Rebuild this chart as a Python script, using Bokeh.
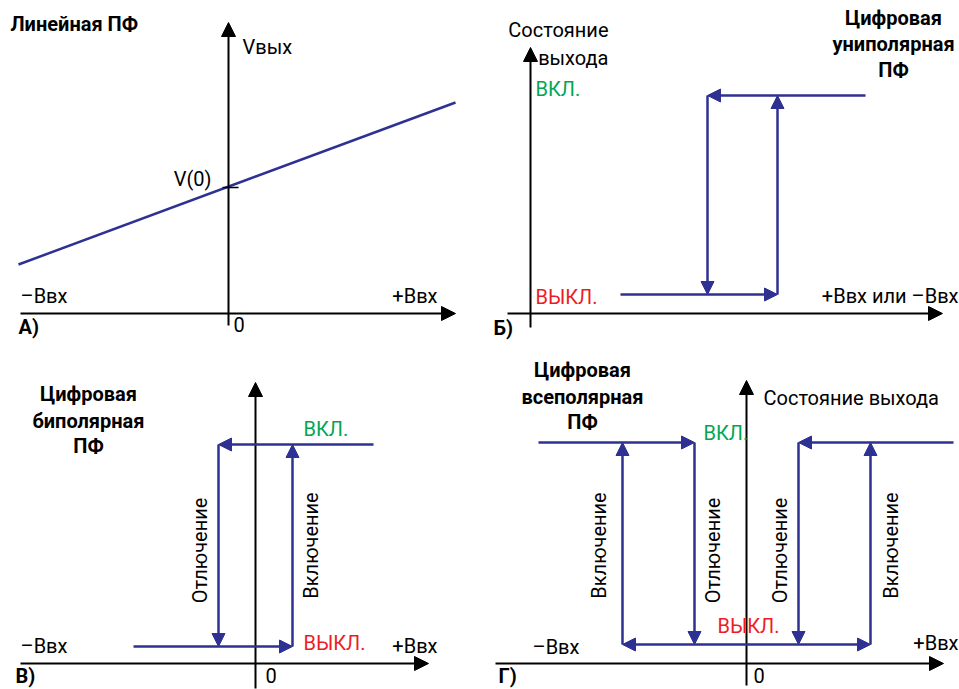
import math
from bokeh.plotting import figure
from bokeh.models import Range1d, Arrow, NormalHead, Label
from bokeh.layouts import column, row
from bokeh.embed import file_html
from bokeh.resources import INLINE

# ---------------- data ----------------
# Panel A: linear sensor, output vs input
lin_vin = [-21.0, 22.7]
lin_vout = [4.9, 21.1]
lin_v0 = 12.6

# Panel B: unipolar digital sensor
uni_in = [9.0, 33.5]          # input span drawn (low branch start, high branch start)
uni_off = 17.7                # switch-off threshold
uni_on = 24.7                 # switch-on threshold
uni_levels = [1.9, 21.8]      # ВЫКЛ., ВКЛ.

# Panel C: bipolar digital sensor
bip_in = [-12.2, 11.8]
bip_off = -3.7
bip_on = 3.7
bip_levels = [1.7, 21.9]

# Panel D: omnipolar digital sensor
omni_in = [-20.8, 20.7]
omni_off = [-5.2, 5.2]
omni_on = [-12.4, 12.4]
omni_levels = [1.9, 22.1]

# axis extents per panel: (x_min, x_max, y_min, y_max)
axes_A = (-20.8, 22.7, -1.2, 29.1)
axes_B = (-2.3, 41.2, -1.4, 26.6)
axes_C = (-23.5, 17.3, -2.5, 28.1)
axes_D = (-25.1, 19.7, -2.2, 28.3)

BLUE = "#2e3192"
GREEN = "#00a651"
RED = "#ed1c24"
FONT = "Roboto"
FS = "20px"
BFS = "20px"


def make_fig(w, h, xr, yr):
    p = figure(width=w, height=h, x_range=Range1d(*xr), y_range=Range1d(*yr),
               output_backend="svg", toolbar_location=None, min_border=0,
               x_axis_location=None, y_axis_location=None)
    p.grid.visible = False
    p.outline_line_color = None
    p.background_fill_color = "white"
    p.border_fill_color = "white"
    return p


def draw_axes(p, ext):
    x0, x1, y0, y1 = ext
    for xs, ys, xe, ye in [(x0, 0, x1, 0), (0, y0, 0, y1)]:
        p.add_layout(Arrow(x_start=xs, y_start=ys, x_end=xe, y_end=ye,
                           line_color="black", line_width=2,
                           end=NormalHead(size=14, fill_color="black",
                                          line_color="black", line_width=1)))


def draw_curve(p, segs, both=()):
    for i, (xs, ys, xe, ye) in enumerate(segs):
        kw = {}
        if i in both:
            kw["start"] = NormalHead(size=13, fill_color=BLUE, line_color=BLUE, line_width=1)
        p.add_layout(Arrow(x_start=xs, y_start=ys, x_end=xe, y_end=ye,
                           line_color=BLUE, line_width=2.5,
                           end=NormalHead(size=13, fill_color=BLUE, line_color=BLUE, line_width=1),
                           **kw))


def label(p, x, y, text, color="black", align="left", bold=False, angle=0.0, size=None):
    p.add_layout(Label(x=x, y=y, text=text, text_color=color, text_align=align,
                       text_baseline="middle", text_font=FONT,
                       text_font_size=size or (BFS if bold else FS),
                       text_font_style="bold" if bold else "normal",
                       angle=angle))


# ---------------- Panel A ----------------
pA = make_fig(480, 345, (-22.8, 25.2), (-3.2, 31.3))
draw_axes(pA, axes_A)
pA.line(lin_vin, lin_vout, line_color=BLUE, line_width=2.5)
pA.segment(x0=[-0.6], y0=[lin_v0], x1=[1.0], y1=[lin_v0], line_color="black", line_width=1.5)
label(pA, -21.8, 29.0, "Линейная ПФ", bold=True)
label(pA, 1.4, 26.7, "Vвых")
label(pA, -1.7, 13.5, "V(0)", align="right")
label(pA, -20.8, 1.8, "–Ввх")
label(pA, 20.9, 1.8, "+Ввх", align="right")
label(pA, 0.5, -1.1, "0")
label(pA, -21.0, -1.3, "А)", bold=True)

# ---------------- Panel B ----------------
pB = make_fig(479, 345, (-5.0, 42.9), (-3.2, 31.3))
draw_axes(pB, axes_B)
lo, hi = uni_levels
draw_curve(pB, [
    (uni_in[0], lo, uni_on, lo),
    (uni_on, lo, uni_on, hi),
    (uni_in[1], hi, uni_off, hi),
    (uni_off, hi, uni_off, lo),
])
label(pB, 7.8, 28.4, "Состояние", align="right")
label(pB, 7.8, 25.6, "выхода", align="right")
label(pB, 0.5, 22.5, "ВКЛ.", color=GREEN)
label(pB, 0.5, 1.7, "ВЫКЛ.", color=RED)
label(pB, 36.3, 29.6, "Цифровая", bold=True, align="center")
label(pB, 36.3, 27.0, "униполярная", bold=True, align="center")
label(pB, 36.3, 24.4, "ПФ", bold=True, align="center")
label(pB, 42.8, 1.8, "+Ввх или –Ввх", align="right")
label(pB, -3.7, -1.4, "Б)", bold=True)

# ---------------- Panel C ----------------
pC = make_fig(480, 344, (-25.5, 22.5), (-2.6, 31.8))
draw_axes(pC, axes_C)
lo, hi = bip_levels
draw_curve(pC, [
    (bip_in[0], lo, bip_on, lo),
    (bip_on, lo, bip_on, hi),
    (bip_in[1], hi, bip_off, hi),
    (bip_off, hi, bip_off, lo),
])
label(pC, -16.7, 27.0, "Цифровая", bold=True, align="center")
label(pC, -16.7, 24.3, "биполярная", bold=True, align="center")
label(pC, -16.7, 21.8, "ПФ", bold=True, align="center")
label(pC, 4.8, 23.5, "ВКЛ.", color=GREEN)
label(pC, 4.8, 2.1, "ВЫКЛ.", color=RED)
label(pC, -5.6, 11.3, "Отлючение", align="center", angle=math.pi / 2)
label(pC, 5.5, 11.8, "Включение", align="center", angle=math.pi / 2)
label(pC, -23.5, 1.8, "–Ввх")
label(pC, 18.2, 1.8, "+Ввх", align="right")
label(pC, 1.0, -1.2, "0")
label(pC, -24.0, -1.2, "В)", bold=True)

# ---------------- Panel D ----------------
pD = make_fig(479, 344, (-26.6, 21.3), (-2.6, 31.8))
draw_axes(pD, axes_D)
lo, hi = omni_levels
draw_curve(pD, [
    (omni_in[0], hi, omni_off[0], hi),
    (omni_off[0], hi, omni_off[0], lo),
    (omni_on[0], lo, omni_on[1], lo),
    (omni_on[0], lo, omni_on[0], hi),
    (omni_in[1], hi, omni_off[1], hi),
    (omni_off[1], hi, omni_off[1], lo),
    (omni_on[1], lo, omni_on[1], hi),
], both=(2,))
label(pD, -16.4, 29.4, "Цифровая", bold=True, align="center")
label(pD, -16.4, 26.7, "всеполярная", bold=True, align="center")
label(pD, -16.4, 24.2, "ПФ", bold=True, align="center")
label(pD, 1.7, 26.6, "Состояние выхода")
label(pD, -4.3, 23.1, "ВКЛ.", color=GREEN)
label(pD, -2.9, 3.8, "ВЫКЛ.", color=RED)
label(pD, -14.8, 11.8, "Включение", align="center", angle=math.pi / 2)
label(pD, -3.4, 11.3, "Отлючение", align="center", angle=math.pi / 2)
label(pD, 3.3, 11.3, "Отлючение", align="center", angle=math.pi / 2)
label(pD, 14.4, 11.8, "Включение", align="center", angle=math.pi / 2)
label(pD, -21.4, 1.7, "–Ввх")
label(pD, 21.2, 2.1, "+Ввх", align="right")
label(pD, 0.7, -1.2, "0")
label(pD, -24.8, -1.2, "Г)", bold=True)

layout = column(row(pA, pB, spacing=0), row(pC, pD, spacing=0), spacing=0)
open("out.html", "w").write(file_html(layout, INLINE))
